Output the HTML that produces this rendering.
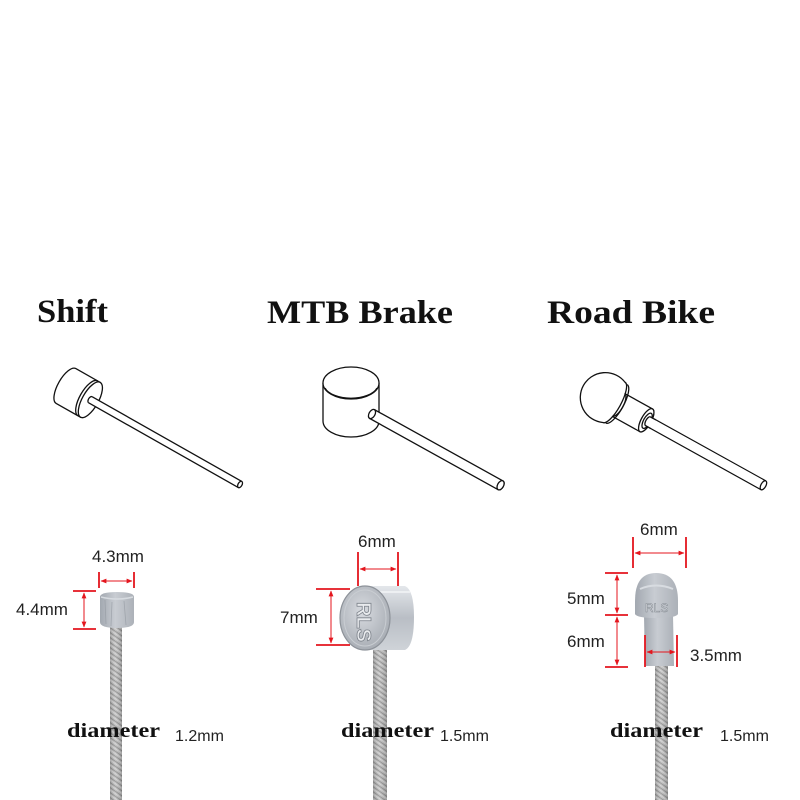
<!DOCTYPE html>
<html><head><meta charset="utf-8"><style>
html,body{margin:0;padding:0;background:#fff;}
svg{display:block;}
</style></head><body>
<svg width="800" height="800" viewBox="0 0 800 800" xmlns="http://www.w3.org/2000/svg">
<defs>
  <marker id="ah" viewBox="0 0 10 10" refX="9" refY="5" markerWidth="6" markerHeight="6" orient="auto-start-reverse" markerUnits="userSpaceOnUse">
    <path d="M0,1 L10,5 L0,9 z" fill="#e4161e"/>
  </marker>
  <pattern id="wire" patternUnits="userSpaceOnUse" width="4" height="5" patternTransform="skewY(35)">
    <rect width="4" height="5" fill="#bdbdbd"/>
    <rect y="0" width="4" height="1.1" fill="#8e8e8e"/>
    <rect y="2.5" width="4" height="0.8" fill="#dedede"/>
  </pattern>
  <linearGradient id="wireShade" x1="0" x2="1" y1="0" y2="0">
    <stop offset="0" stop-color="#000" stop-opacity="0.18"/>
    <stop offset="0.45" stop-color="#fff" stop-opacity="0.12"/>
    <stop offset="1" stop-color="#000" stop-opacity="0.22"/>
  </linearGradient>
  <linearGradient id="capGrey" x1="0" x2="1" y1="0" y2="0">
    <stop offset="0" stop-color="#a2a8b0"/>
    <stop offset="0.45" stop-color="#c8ccd2"/>
    <stop offset="1" stop-color="#acb1b8"/>
  </linearGradient>
  <linearGradient id="capBody" x1="0" x2="0" y1="0" y2="1">
    <stop offset="0" stop-color="#e4e7eb"/>
    <stop offset="0.5" stop-color="#b9bec5"/>
    <stop offset="1" stop-color="#cfd3d8"/>
  </linearGradient>
  <radialGradient id="faceG" cx="0.45" cy="0.4" r="0.6">
    <stop offset="0" stop-color="#d8dbe0"/>
    <stop offset="1" stop-color="#a9aeb5"/>
  </radialGradient>
</defs>

<!-- Titles -->
<g font-family="'Liberation Serif', serif" font-weight="bold" font-size="33" fill="#111">
  <text x="37" y="322" textLength="71" lengthAdjust="spacingAndGlyphs">Shift</text>
  <text x="267" y="323" textLength="186" lengthAdjust="spacingAndGlyphs">MTB Brake</text>
  <text x="547" y="323" textLength="168" lengthAdjust="spacingAndGlyphs">Road Bike</text>
</g>

<!-- Shift drawing -->
<g transform="translate(66,386) rotate(29.5)" fill="#fff" stroke="#111" stroke-width="1.3">
  <path d="M28,-20 L0,-20 A8,20 0 0 0 0,20 L28,20 Z"/>
  <ellipse cx="28" cy="0" rx="8" ry="20"/>
  <path d="M25,-20 A8,20 0 0 0 25,20" fill="none"/>
  <rect x="28" y="-3.5" width="172" height="7" stroke="none"/>
  <path d="M28,-3.5 L200,-3.5 M28,3.5 L200,3.5" fill="none"/>
  <path d="M28,-3.5 A2,3.5 0 0 0 28,3.5" fill="none"/>
  <ellipse cx="200" cy="0" rx="2" ry="3.5"/>
</g>

<!-- MTB drawing -->
<g fill="#fff" stroke="#111" stroke-width="1.3">
  <path d="M323,383 L323,421 A28,16 0 0 0 379,421 L379,383"/>
  <ellipse cx="351" cy="383" rx="28" ry="16"/>
  <path d="M325,388 A27,14 0 0 0 377,388" fill="none"/>
  <g transform="translate(372,414) rotate(29)">
    <path d="M0,-5 L147,-5 A3,5 0 0 1 147,5 L0,5" />
    <ellipse cx="147" cy="0" rx="3" ry="5"/>
    <ellipse cx="0" cy="0" rx="3" ry="5"/>
  </g>
</g>

<!-- Road drawing -->
<g transform="translate(606,398) rotate(29)" fill="#fff" stroke="#111" stroke-width="1.3">
  <path d="M52,-5 L180,-5 M52,5 L180,5" fill="none"/>
  <rect x="52" y="-4.4" width="128" height="8.8" stroke="none"/>
  <ellipse cx="180" cy="0" rx="2.5" ry="5"/>
  <path d="M14,-13 L46,-13 A5,13 0 0 1 46,13 L14,13 Z"/>
  <ellipse cx="46" cy="0" rx="5" ry="13"/>
  <ellipse cx="47" cy="0" rx="3.5" ry="8.5"/>
  <ellipse cx="48" cy="0" rx="2.2" ry="5"/>
  <rect x="48" y="-4.4" width="6" height="8.8" stroke="none"/>
  <path d="M48,-5 L54,-5 M48,5 L54,5" fill="none"/>
  <path d="M9,-23 A25,25 0 1 0 9,23 A7,23 0 0 0 9,-23 Z"/>
  <path d="M12,-22 A7,22 0 0 1 12,22" fill="none"/>
  <path d="M14,-13 A5,13 0 0 1 14,13" fill="none"/>
</g>

<!-- Cables (photos) -->
<rect x="110" y="626" width="12" height="174" fill="url(#wire)"/>
<rect x="110" y="626" width="12" height="174" fill="url(#wireShade)"/>
<rect x="373" y="646" width="14" height="154" fill="url(#wire)"/>
<rect x="373" y="646" width="14" height="154" fill="url(#wireShade)"/>
<rect x="655" y="664" width="13" height="136" fill="url(#wire)"/>
<rect x="655" y="664" width="13" height="136" fill="url(#wireShade)"/>

<!-- Shift cap photo -->
<path d="M100,597 Q100,592 117,592 Q134,592 134,597 L134,622 Q134,628 117,628 Q100,628 100,622 Z" fill="url(#capGrey)"/>
<path d="M101,597 Q117,601 133,597" stroke="#d7dbe0" stroke-width="1.5" fill="none"/>
<path d="M105,600 L106,624 M112,602 L111,626 M124,601 L126,625" stroke="#8f959d" stroke-width="0.8" opacity="0.6"/>

<!-- MTB cap photo -->
<path d="M365,586 L405,586 Q414,590 414,617 Q414,646 405,650 L365,650 Z" fill="url(#capBody)"/>
<path d="M368,592 L410,592" stroke="#f2f4f6" stroke-width="2" opacity="0.8"/>
<ellipse cx="365" cy="618" rx="25" ry="32" fill="url(#faceG)" stroke="#8d9299" stroke-width="1.2"/>
<ellipse cx="365" cy="618" rx="21" ry="28" fill="none" stroke="#c9cdd2" stroke-width="1"/>
<text x="0" y="0" transform="translate(357,602) rotate(90)" font-family="'Liberation Sans', sans-serif" font-weight="bold" font-size="20" fill="#e9ebee" stroke="#7d838b" stroke-width="0.8">RLS</text>

<!-- Road cap photo -->
<path d="M644,615 L673,615 L674,666 L645,666 Z" fill="url(#capGrey)"/>
<path d="M635,614 L635,601 Q635,573 656,573 Q678,573 678,601 L678,614 Q676,618 656,618 Q637,618 635,614 Z" fill="url(#capGrey)"/>
<path d="M640,589 Q656,582 673,589" stroke="#d8dce1" stroke-width="2" fill="none"/>
<text x="645" y="612" font-family="'Liberation Sans', sans-serif" font-size="12" fill="#e6e9ec" stroke="#7e848c" stroke-width="0.5">RLS</text>

<!-- Red dimension lines -->
<g stroke="#e4161e" stroke-width="1.8" fill="none">
  <path d="M99,572 L99,588 M134,572 L134,588"/>
  <line x1="101" y1="581" x2="132" y2="581" stroke-width="1" marker-start="url(#ah)" marker-end="url(#ah)"/>
  <path d="M73,591 L96,591 M73,629 L96,629"/>
  <line x1="84" y1="593" x2="84" y2="627" stroke-width="1" marker-start="url(#ah)" marker-end="url(#ah)"/>
  <path d="M358,552 L358,586 M398,552 L398,586"/>
  <line x1="360" y1="569" x2="396" y2="569" stroke-width="1" marker-start="url(#ah)" marker-end="url(#ah)"/>
  <path d="M316,589 L350,589 M316,645 L350,645"/>
  <line x1="331" y1="591" x2="331" y2="643" stroke-width="1" marker-start="url(#ah)" marker-end="url(#ah)"/>
  <path d="M633,537 L633,568 M686,537 L686,568"/>
  <line x1="635" y1="553" x2="684" y2="553" stroke-width="1" marker-start="url(#ah)" marker-end="url(#ah)"/>
  <path d="M605,573 L628,573 M605,615 L628,615 M605,667 L628,667"/>
  <line x1="617" y1="575" x2="617" y2="613" stroke-width="1" marker-start="url(#ah)" marker-end="url(#ah)"/>
  <line x1="617" y1="617" x2="617" y2="665" stroke-width="1" marker-start="url(#ah)" marker-end="url(#ah)"/>
  <path d="M645,635 L645,667 M677,635 L677,667"/>
  <line x1="647" y1="652" x2="675" y2="652" stroke-width="1" marker-start="url(#ah)" marker-end="url(#ah)"/>
</g>

<!-- Dimension labels -->
<g font-family="'Liberation Sans', sans-serif" font-size="17" fill="#222">
  <text x="92" y="562">4.3mm</text>
  <text x="16" y="615">4.4mm</text>
  <text x="358" y="547">6mm</text>
  <text x="280" y="623">7mm</text>
  <text x="640" y="535">6mm</text>
  <text x="567" y="604">5mm</text>
  <text x="567" y="647">6mm</text>
  <text x="690" y="661">3.5mm</text>
  <text x="175" y="741" font-size="16">1.2mm</text>
  <text x="440" y="741" font-size="16">1.5mm</text>
  <text x="720" y="741" font-size="16">1.5mm</text>
</g>
<g font-family="'Liberation Serif', serif" font-weight="bold" font-size="20" fill="#111">
  <text x="67" y="737" textLength="93" lengthAdjust="spacingAndGlyphs">diameter</text>
  <text x="341" y="737" textLength="93" lengthAdjust="spacingAndGlyphs">diameter</text>
  <text x="610" y="737" textLength="93" lengthAdjust="spacingAndGlyphs">diameter</text>
</g>
</svg>
</body></html>
